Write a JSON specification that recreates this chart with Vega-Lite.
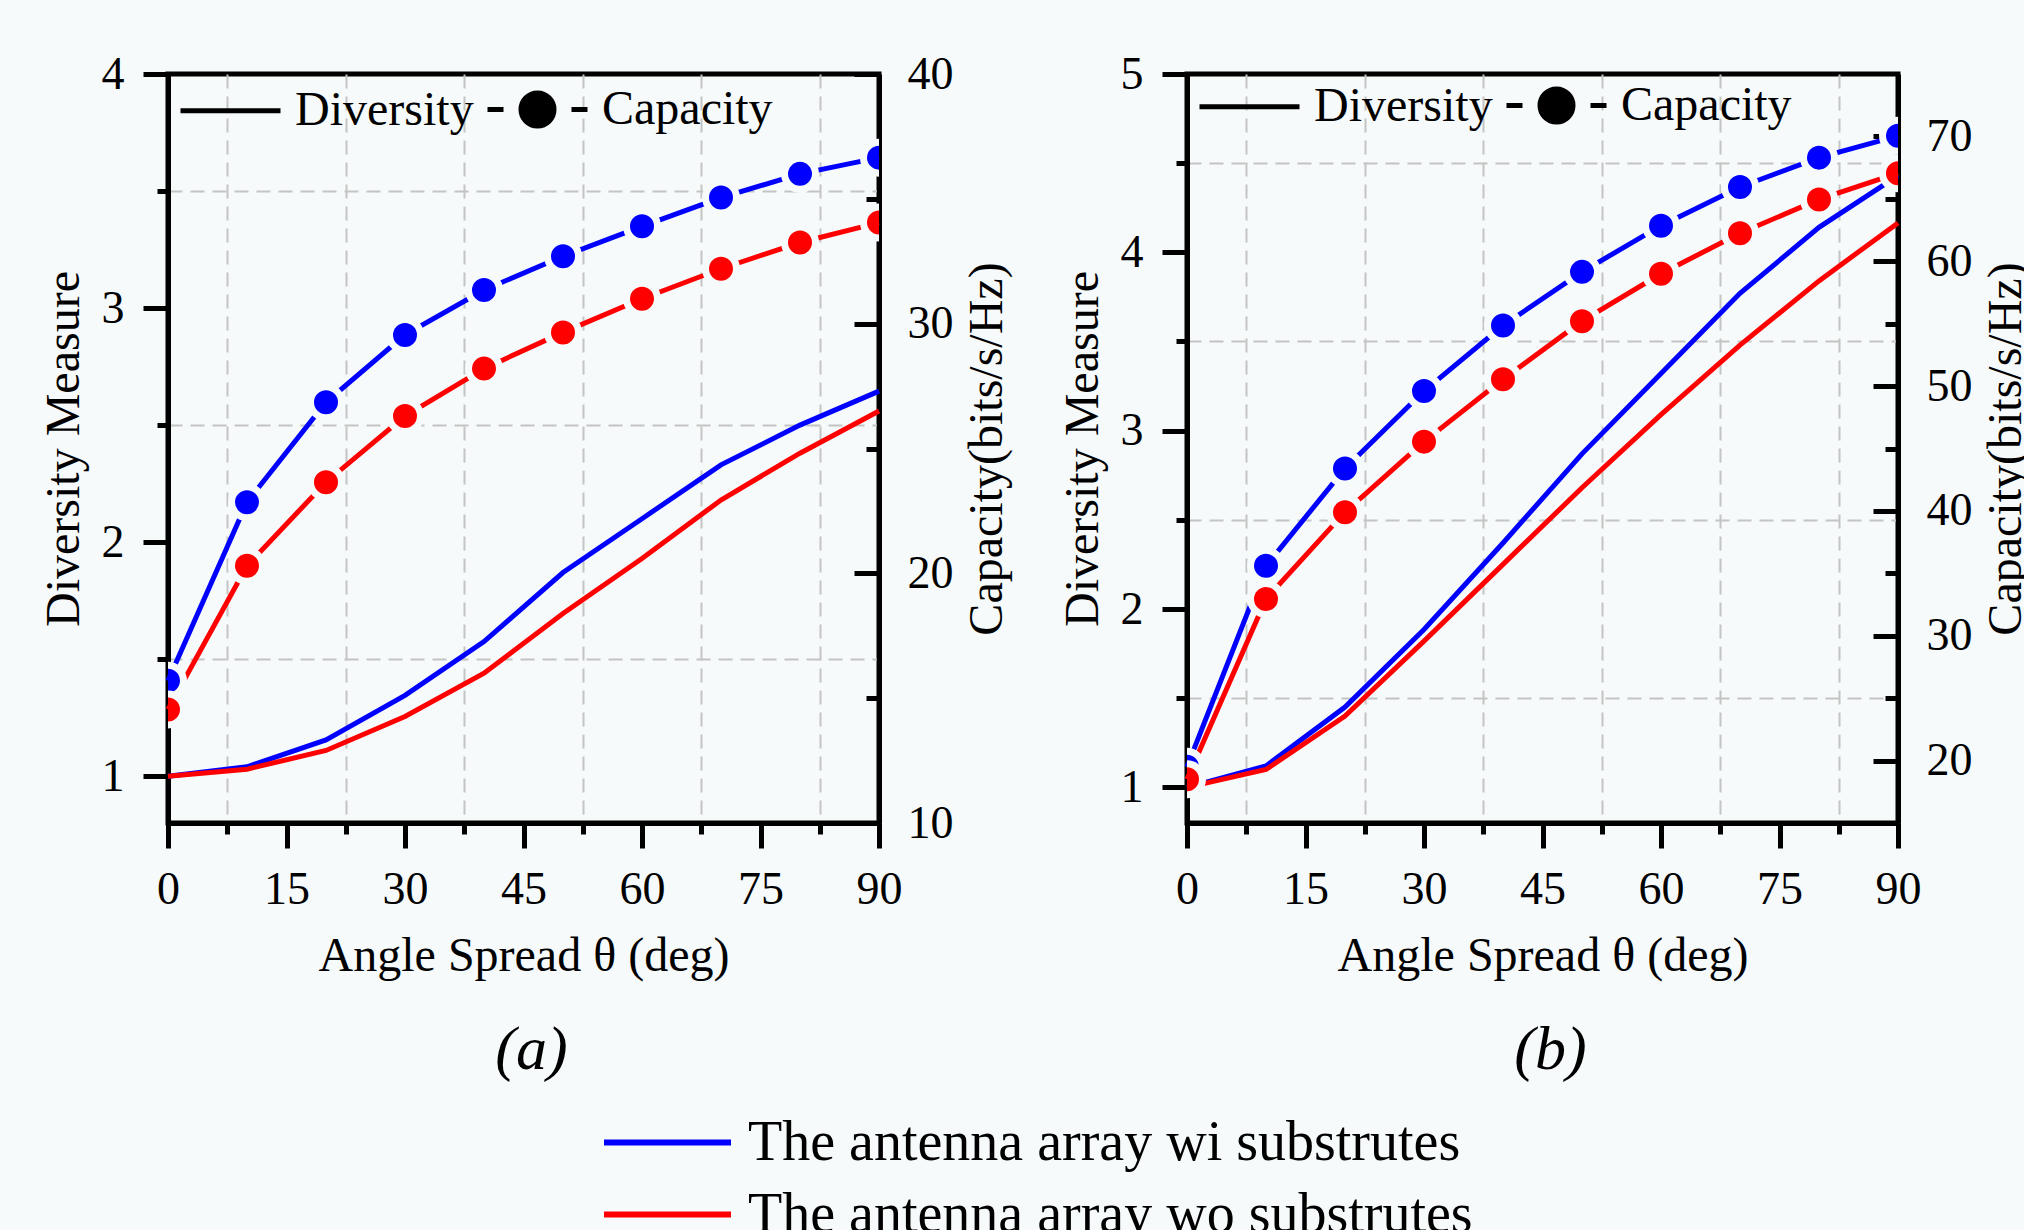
{
  "$schema": "https://vega.github.io/schema/vega-lite/v6.json",
  "background": "#f6fafb",
  "padding": {"left": 37, "top": 48, "right": 0, "bottom": 0},
  "config": {
    "font": "Liberation Serif",
    "view": {"stroke": "black", "strokeWidth": 5},
    "axis": {
      "domainColor": "black", "domainWidth": 5,
      "tickColor": "black", "tickWidth": 5,
      "labelColor": "black", "labelFont": "Liberation Serif", "labelFontSize": 46,
      "labelFlush": false, "labelOverlap": false,
      "titleFont": "Liberation Serif", "titleFontSize": 48, "titleFontWeight": "normal", "titleColor": "black",
      "gridColor": "#c4c4c4", "gridDash": [14, 8], "gridWidth": 2
    },
    "title": {"font": "Liberation Serif", "color": "black", "fontWeight": "normal"}
  },
  "datasets": {
    "a": [
      {"array": "wi", "angle": 0, "Diversity": 1.0, "Capacity": 15.7},
      {"array": "wi", "angle": 10, "Diversity": 1.04, "Capacity": 22.85},
      {"array": "wi", "angle": 20, "Diversity": 1.155, "Capacity": 26.85},
      {"array": "wi", "angle": 30, "Diversity": 1.345, "Capacity": 29.55},
      {"array": "wi", "angle": 40, "Diversity": 1.575, "Capacity": 31.35},
      {"array": "wi", "angle": 50, "Diversity": 1.87, "Capacity": 32.7},
      {"array": "wi", "angle": 60, "Diversity": 2.1, "Capacity": 33.9},
      {"array": "wi", "angle": 70, "Diversity": 2.33, "Capacity": 35.05},
      {"array": "wi", "angle": 80, "Diversity": 2.5, "Capacity": 36.0},
      {"array": "wi", "angle": 90, "Diversity": 2.645, "Capacity": 36.65},
      {"array": "wo", "angle": 0, "Diversity": 1.0, "Capacity": 14.55},
      {"array": "wo", "angle": 10, "Diversity": 1.03, "Capacity": 20.3},
      {"array": "wo", "angle": 20, "Diversity": 1.11, "Capacity": 23.65},
      {"array": "wo", "angle": 30, "Diversity": 1.255, "Capacity": 26.3},
      {"array": "wo", "angle": 40, "Diversity": 1.44, "Capacity": 28.2},
      {"array": "wo", "angle": 50, "Diversity": 1.695, "Capacity": 29.65},
      {"array": "wo", "angle": 60, "Diversity": 1.93, "Capacity": 31.0},
      {"array": "wo", "angle": 70, "Diversity": 2.18, "Capacity": 32.2},
      {"array": "wo", "angle": 80, "Diversity": 2.38, "Capacity": 33.25},
      {"array": "wo", "angle": 90, "Diversity": 2.56, "Capacity": 34.05}
    ],
    "b": [
      {"array": "wi", "angle": 0, "Diversity": 1.0, "Capacity": 19.5},
      {"array": "wi", "angle": 10, "Diversity": 1.12, "Capacity": 35.6},
      {"array": "wi", "angle": 20, "Diversity": 1.45, "Capacity": 43.4},
      {"array": "wi", "angle": 30, "Diversity": 1.885, "Capacity": 49.6},
      {"array": "wi", "angle": 40, "Diversity": 2.37, "Capacity": 54.85},
      {"array": "wi", "angle": 50, "Diversity": 2.87, "Capacity": 59.15},
      {"array": "wi", "angle": 60, "Diversity": 3.32, "Capacity": 62.85},
      {"array": "wi", "angle": 70, "Diversity": 3.77, "Capacity": 65.95},
      {"array": "wi", "angle": 80, "Diversity": 4.14, "Capacity": 68.3},
      {"array": "wi", "angle": 90, "Diversity": 4.43, "Capacity": 70.05},
      {"array": "wo", "angle": 0, "Diversity": 1.0, "Capacity": 18.5},
      {"array": "wo", "angle": 10, "Diversity": 1.1, "Capacity": 32.95},
      {"array": "wo", "angle": 20, "Diversity": 1.4, "Capacity": 39.9},
      {"array": "wo", "angle": 30, "Diversity": 1.82, "Capacity": 45.55},
      {"array": "wo", "angle": 40, "Diversity": 2.25, "Capacity": 50.55},
      {"array": "wo", "angle": 50, "Diversity": 2.68, "Capacity": 55.2},
      {"array": "wo", "angle": 60, "Diversity": 3.09, "Capacity": 59.0},
      {"array": "wo", "angle": 70, "Diversity": 3.48, "Capacity": 62.25},
      {"array": "wo", "angle": 80, "Diversity": 3.84, "Capacity": 64.95},
      {"array": "wo", "angle": 90, "Diversity": 4.165, "Capacity": 67.05}
    ]
  },
  "spacing": 42,
  "resolve": {"scale": {"shape": "independent"}, "legend": {"shape": "independent"}},
  "hconcat": [
    {
      "width": 711, "height": 749,
      "data": {"name": "a"},
      "title": {"text": "(a)", "orient": "bottom", "anchor": "middle", "fontSize": 62, "fontStyle": "italic", "offset": 40, "dx": 8},
      "resolve": {"scale": {"y": "independent"}, "axis": {"x": "independent"}},
      "layer": [
        {
          "mark": {"type": "line", "strokeWidth": 5},
          "encoding": {
            "x": {"field": "angle", "type": "quantitative", "scale": {"domain": [0, 90], "nice": false, "zero": false},
                  "axis": {"orient": "bottom", "values": [0, 15, 30, 45, 60, 75, 90], "tickSize": 25, "labelPadding": 19, "grid": false, "title": "Angle Spread θ (deg)", "titlePadding": 20}},
            "y": {"field": "Diversity", "type": "quantitative", "scale": {"domain": [0.8, 4], "nice": false, "zero": false},
                  "axis": {"orient": "left", "values": [1, 2, 3, 4], "tickSize": 25, "labelPadding": 19, "grid": false, "title": "Diversity Measure", "titlePadding": 13}},
            "color": {"field": "array", "type": "nominal", "scale": {"domain": ["wi", "wo"], "range": ["#0000ff", "#ff0000"]},
                      "legend": {"orient": "none", "legendX": 433, "legendY": 1041, "direction": "vertical", "title": null,
                                 "symbolType": "stroke", "symbolSize": 16129, "symbolStrokeWidth": 6, "clipHeight": 55,
                                 "labelFont": "Liberation Serif", "labelFontSize": 56, "labelColor": "black", "labelOffset": 14, "labelLimit": 2000, "rowPadding": 15,
                                 "labelExpr": "datum.value == 'wi' ? 'The antenna array wi substrutes' : 'The antenna array wo substrutes'"}}
          }
        },
        {
          "transform": [{"fold": ["Diversity", "Capacity"], "as": ["measure", "value"]}],
          "mark": {"type": "point", "filled": true, "color": "black", "stroke": "black", "strokeWidth": 5, "opacity": 0},
          "encoding": {
            "x": {"field": "angle", "type": "quantitative", "scale": {"domain": [0, 90], "nice": false, "zero": false},
                  "axis": {"orient": "bottom", "values": [7.5, 22.5, 37.5, 52.5, 67.5, 82.5], "tickSize": 11, "labels": false, "domain": false, "grid": true, "title": null}},
            "y": {"field": "Diversity", "type": "quantitative", "scale": {"domain": [0.8, 4], "nice": false, "zero": false},
                  "axis": {"orient": "left", "values": [1.5, 2.5, 3.5], "tickSize": 11, "labels": false, "domain": false, "grid": true, "title": null}},
            "shape": {"field": "measure", "type": "nominal",
                      "scale": {"domain": ["Diversity", "Capacity"], "range": ["M-1,0H1", "M-1,0H-0.68M0.68,0H1M0.33,0A0.33,0.33,0,1,1,-0.33,0A0.33,0.33,0,1,1,0.33,0Z"]},
                      "legend": {"orient": "none", "legendX": 10, "legendY": -17, "direction": "horizontal", "title": null,
                                 "symbolSize": 10000, "symbolStrokeWidth": 5, "symbolOpacity": 1,
                                 "labelFont": "Liberation Serif", "labelFontSize": 48, "labelColor": "black", "labelOffset": 12, "labelLimit": 1000, "columnPadding": 3}}
          }
        },
        {
          "mark": {"type": "line", "strokeWidth": 5},
          "encoding": {
            "x": {"field": "angle", "type": "quantitative", "axis": null},
            "y": {"field": "Capacity", "type": "quantitative", "scale": {"domain": [10, 40], "nice": false, "zero": false},
                  "axis": {"orient": "right", "values": [10, 20, 30, 40], "tickSize": -25, "labelPadding": 53, "grid": false, "title": "Capacity(bits/s/Hz)", "titleAngle": 270, "titleBaseline": "top", "titlePadding": 10}},
            "color": {"field": "array", "type": "nominal", "legend": null}
          }
        },
        {
          "mark": {"type": "point", "filled": true, "size": 960, "stroke": "#f6fafb", "strokeWidth": 7, "opacity": 1, "clip": true},
          "encoding": {
            "x": {"field": "angle", "type": "quantitative", "axis": null},
            "y": {"field": "Capacity", "type": "quantitative", "scale": {"domain": [10, 40], "nice": false, "zero": false},
                  "axis": {"orient": "right", "values": [15, 25, 35], "tickSize": -13, "labels": false, "domain": false, "grid": false, "title": null}},
            "color": {"field": "array", "type": "nominal", "legend": null}
          }
        }
      ]
    },
    {
      "width": 711, "height": 749,
      "data": {"name": "b"},
      "title": {"text": "(b)", "orient": "bottom", "anchor": "middle", "fontSize": 62, "fontStyle": "italic", "offset": 40, "dx": 8},
      "resolve": {"scale": {"y": "independent"}, "axis": {"x": "independent"}},
      "layer": [
        {
          "mark": {"type": "line", "strokeWidth": 5},
          "encoding": {
            "x": {"field": "angle", "type": "quantitative", "scale": {"domain": [0, 90], "nice": false, "zero": false},
                  "axis": {"orient": "bottom", "values": [0, 15, 30, 45, 60, 75, 90], "tickSize": 25, "labelPadding": 19, "grid": false, "title": "Angle Spread θ (deg)", "titlePadding": 20}},
            "y": {"field": "Diversity", "type": "quantitative", "scale": {"domain": [0.8, 5], "nice": false, "zero": false},
                  "axis": {"orient": "left", "values": [1, 2, 3, 4, 5], "tickSize": 25, "labelPadding": 19, "grid": false, "title": "Diversity Measure", "titlePadding": 13}},
            "color": {"field": "array", "type": "nominal", "scale": {"domain": ["wi", "wo"], "range": ["#0000ff", "#ff0000"]},
                      "legend": {"orient": "none", "legendX": 433, "legendY": 1041, "direction": "vertical", "title": null,
                                 "symbolType": "stroke", "symbolSize": 16129, "symbolStrokeWidth": 6, "clipHeight": 55,
                                 "labelFont": "Liberation Serif", "labelFontSize": 56, "labelColor": "black", "labelOffset": 14, "labelLimit": 2000, "rowPadding": 15,
                                 "labelExpr": "datum.value == 'wi' ? 'The antenna array wi substrutes' : 'The antenna array wo substrutes'"}}
          }
        },
        {
          "transform": [{"fold": ["Diversity", "Capacity"], "as": ["measure", "value"]}],
          "mark": {"type": "point", "filled": true, "color": "black", "stroke": "black", "strokeWidth": 5, "opacity": 0},
          "encoding": {
            "x": {"field": "angle", "type": "quantitative", "scale": {"domain": [0, 90], "nice": false, "zero": false},
                  "axis": {"orient": "bottom", "values": [7.5, 22.5, 37.5, 52.5, 67.5, 82.5], "tickSize": 11, "labels": false, "domain": false, "grid": true, "title": null}},
            "y": {"field": "Diversity", "type": "quantitative", "scale": {"domain": [0.8, 5], "nice": false, "zero": false},
                  "axis": {"orient": "left", "values": [1.5, 2.5, 3.5, 4.5], "tickSize": 11, "labels": false, "domain": false, "grid": true, "title": null}},
            "shape": {"field": "measure", "type": "nominal",
                      "scale": {"domain": ["Diversity", "Capacity"], "range": ["M-1,0H1", "M-1,0H-0.68M0.68,0H1M0.33,0A0.33,0.33,0,1,1,-0.33,0A0.33,0.33,0,1,1,0.33,0Z"]},
                      "legend": {"orient": "none", "legendX": 10, "legendY": -21, "direction": "horizontal", "title": null,
                                 "symbolSize": 10000, "symbolStrokeWidth": 5, "symbolOpacity": 1,
                                 "labelFont": "Liberation Serif", "labelFontSize": 48, "labelColor": "black", "labelOffset": 12, "labelLimit": 1000, "columnPadding": 3}}
          }
        },
        {
          "mark": {"type": "line", "strokeWidth": 5},
          "encoding": {
            "x": {"field": "angle", "type": "quantitative", "axis": null},
            "y": {"field": "Capacity", "type": "quantitative", "scale": {"domain": [15, 75], "nice": false, "zero": false},
                  "axis": {"orient": "right", "values": [20, 30, 40, 50, 60, 70], "tickSize": -25, "labelPadding": 53, "grid": false, "title": "Capacity(bits/s/Hz)", "titleAngle": 270, "titleBaseline": "top", "titlePadding": 10}},
            "color": {"field": "array", "type": "nominal", "legend": null}
          }
        },
        {
          "mark": {"type": "point", "filled": true, "size": 960, "stroke": "#f6fafb", "strokeWidth": 7, "opacity": 1, "clip": true},
          "encoding": {
            "x": {"field": "angle", "type": "quantitative", "axis": null},
            "y": {"field": "Capacity", "type": "quantitative", "scale": {"domain": [15, 75], "nice": false, "zero": false},
                  "axis": {"orient": "right", "values": [25, 35, 45, 55, 65], "tickSize": -13, "labels": false, "domain": false, "grid": false, "title": null}},
            "color": {"field": "array", "type": "nominal", "legend": null}
          }
        }
      ]
    }
  ]
}
